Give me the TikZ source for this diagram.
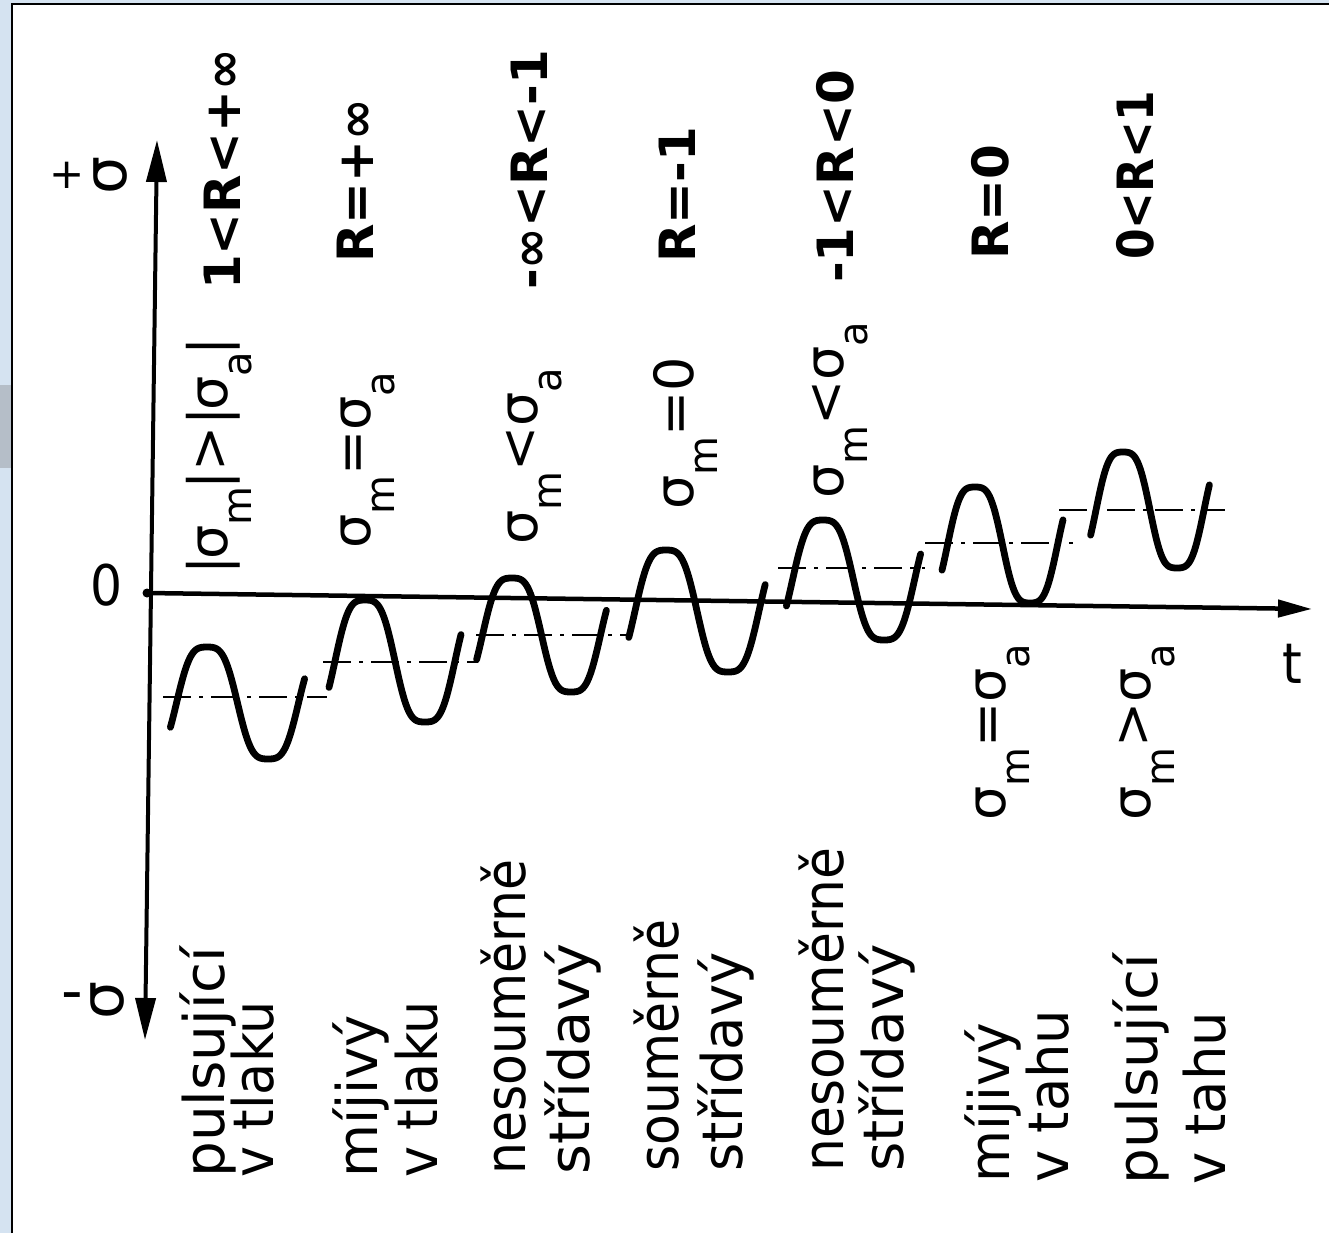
\documentclass[tikz,border=0pt]{standalone}
\usepackage{graphicx}
\usepackage{fontspec}
\setmainfont{DejaVu Sans}
\newfontfamily\lblfont[FakeStretch=0.9]{DejaVu Sans}
\newfontfamily\frmfont{DejaVu Sans}
\usetikzlibrary{arrows.meta}
\definecolor{bgblue}{HTML}{D5E3F1}
\definecolor{bggray}{HTML}{B5BEC8}
\newcommand\sgm[1]{σ\raisebox{-24pt}{\fontsize{40}{40}\selectfont #1}}
\newcommand\sx[2]{\scalebox{#1}[1]{#2}}
\newcommand\wavecurve[4]{\draw[wave] plot[domain=-18:378, samples=90, smooth, variable=\t] ({#1+(\t-90)/180*#2}, {#3-#4*(sin(\t)+0.1*sin(3*\t))/0.9});}
\begin{document}
\begin{tikzpicture}[x=1pt,y=-1pt,
  wave/.style={line width=6.8pt, line cap=round, line join=round},
  meanline/.style={line width=2.8pt, dash pattern=on 28pt off 8pt on 4pt off 8pt},
  axis/.style={line width=4pt},
  lbl/.style={rotate=90, anchor=base west, inner sep=0pt, font=\lblfont\fontsize{56}{60}\selectfont},
  frm/.style={rotate=90, anchor=base west, inner sep=0pt, font=\frmfont\bfseries\fontsize{50}{54}\selectfont},
  sgl/.style={rotate=90, anchor=base west, inner sep=0pt, font=\frmfont\fontsize{54}{58}\selectfont},
  axl/.style={inner sep=0pt, font=\lblfont\fontsize{56}{60}\selectfont}
]
% background and frame
\useasboundingbox (0,0) rectangle (1329,1233);
\fill[bgblue] (0,0) rectangle (1329,1233);
\fill[bggray] (0,385) rectangle (12,468);
\fill[white] (12,4) rectangle (1329,1233);
\draw[line width=2pt] (12,1233) -- (12,4) -- (1329,4);

% axes
\coordinate (O) at (147,593);
\coordinate (tend) at (1312,609);
\coordinate (stop) at (157,140);
\coordinate (sbot) at (145,1040);
\draw[axis, line width=4.5pt, -{Triangle[length=34pt,width=17pt]}] (O) -- (tend);
\draw[axis, {Triangle[length=42pt,width=20pt]}-{Triangle[length=42pt,width=20pt]}] (sbot) -- (stop);
\fill (O) circle (4.5pt);

% axis labels
\node[axl, font=\frmfont\fontsize{42}{44}\selectfont] (plus) at (67,175) {+};
\node[axl, rotate=90, font=\frmfont\fontsize{60}{60}\selectfont] (sigp) at (111,175) {σ};
\node[axl, font=\frmfont\fontsize{60}{60}\selectfont] (minus) at (72,1002) {-};
\node[axl, rotate=90, font=\frmfont\fontsize{60}{60}\selectfont] (sigm) at (108,1000) {σ};
\node[axl] (zero) at (107,585) {0};
\node[axl] (tlab) at (1292,664) {t};

% mean lines
\draw[meanline] (163,697) -- (327,697);
\draw[meanline] (323,662) -- (478,662);
\draw[meanline] (476,635) -- (626,635);
\draw[meanline] (778,568) -- (925,568);
\draw[meanline] (925,543) -- (1073,543);
\draw[meanline] (1059,510) -- (1225,510);

% waves
\wavecurve{207}{61}{703}{56}
\wavecurve{365}{60}{661}{61}
\wavecurve{512}{59}{635}{57}
\wavecurve{666}{62}{611}{61}
\wavecurve{823}{61}{580}{60}
\wavecurve{975}{55}{545}{58}
\wavecurve{1123}{54}{510}{58}

% R labels
\node[frm] (r1) at (240,290) {1<R<+∞};
\node[frm] (r2) at (373,263) {R=+∞};
\node[frm] (r3) at (547,290) {-∞<R<-1};
\node[frm] (r4) at (695,263) {R=-1};
\node[frm] (r5) at (853,283) {-1<R<0};
\node[frm] (r6) at (1008,260) {R=0};
\node[frm] (r7) at (1153,260) {\sx{0.88}{0<R<1}};

% sigma labels
\node[sgl] (s1) at (227,575) {|\kern-3pt\sgm{m}\kern-3pt|>|\kern-3pt\sgm{a}\kern-3pt|};
\node[sgl] (s2) at (370,549) {\sgm{m}=\sgm{a}};
\node[sgl] (s3) at (537,545) {\sgm{m}<\sgm{a}};
\node[sgl] (s4) at (693,510) {\sgm{m}=0};
\node[sgl] (s5) at (843,499) {\sgm{m}<\sgm{a}};
\node[sgl] (s6) at (1005,821) {\sgm{m}=\sgm{a}};
\node[sgl] (s7) at (1150,821) {\sgm{m}>\sgm{a}};

% type labels
\node[lbl] (t1a) at (224,1178) {\sx{1.12}{pulsující}};
\node[lbl] (t1b) at (273,1178) {\sx{1.04}{v tlaku}};
\node[lbl] (t2a) at (377,1178) {\sx{1.08}{míjivý}};
\node[lbl] (t2b) at (437,1178) {\sx{1.04}{v tlaku}};
\node[lbl] (t3a) at (525,1175) {nesouměrně};
\node[lbl] (t3b) at (589,1175) {\sx{1.14}{střídavý}};
\node[lbl] (t4a) at (678,1172) {souměrně};
\node[lbl] (t4b) at (742,1172) {\sx{1.08}{střídavý}};
\node[lbl] (t5a) at (843,1172) {\sx{1.03}{nesouměrně}};
\node[lbl] (t5b) at (903,1172) {\sx{1.12}{střídavý}};
\node[lbl] (t6a) at (1009,1183) {\sx{1.06}{míjivý}};
\node[lbl] (t6b) at (1068,1183) {\sx{1.08}{v tahu}};
\node[lbl] (t7a) at (1157,1185) {\sx{1.12}{pulsující}};
\node[lbl] (t7b) at (1225,1185) {\sx{1.08}{v tahu}};
\end{tikzpicture}
\end{document}
